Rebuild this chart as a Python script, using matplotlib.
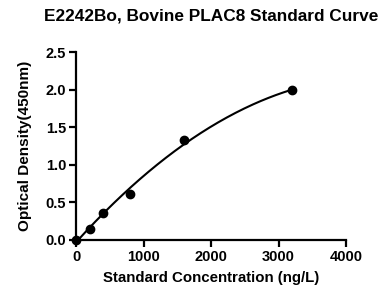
import numpy as np
import matplotlib
matplotlib.use("Agg")
import matplotlib.pyplot as plt

plt.rcParams['font.family'] = ['Liberation Sans', 'DejaVu Sans']
plt.rcParams['font.weight'] = 'bold'

# standard points
conc = [0, 200, 400, 800, 1600, 3200]
od = [0.0, 0.15, 0.36, 0.61, 1.33, 1.99]

x_ticks = [0, 1000, 2000, 3000, 4000]
y_ticks = [0.0, 0.5, 1.0, 1.5, 2.0, 2.5]

fig = plt.figure(figsize=(3.82, 2.89), dpi=100)
ax = fig.add_axes([0.199, 0.170, 0.707, 0.650])

# fitted curve through the standards
coef = np.polyfit(conc, od, 2)
xs = np.linspace(0, max(conc), 200)
ax.plot(xs, np.polyval(coef, xs), color='black', lw=1.5, zorder=2)
ax.plot(conc, od, 'o', color='black', ms=6, zorder=3, clip_on=False)

ax.set_xlim(0, 4000)
ax.set_ylim(0, 2.5)
ax.set_xticks(x_ticks)
ax.set_yticks(y_ticks)
ax.set_yticklabels(['%.1f' % v for v in y_ticks])

for s in ['top', 'right']:
    ax.spines[s].set_visible(False)
for s in ['left', 'bottom']:
    ax.spines[s].set_linewidth(1.6)
ax.tick_params(width=1.6, length=5, labelsize=10.5, pad=2)

ax.set_xlabel('Standard Concentration (ng/L)', fontsize=10.8, fontweight='bold', labelpad=5)
ax.set_ylabel('Optical Density(450nm)', fontsize=11, fontweight='bold', labelpad=10)
fig.text(0.552, 0.945, 'E2242Bo, Bovine PLAC8 Standard Curve', ha='center', va='center',
         fontsize=12.4, fontweight='bold')

fig.savefig('out.png', dpi=100)
